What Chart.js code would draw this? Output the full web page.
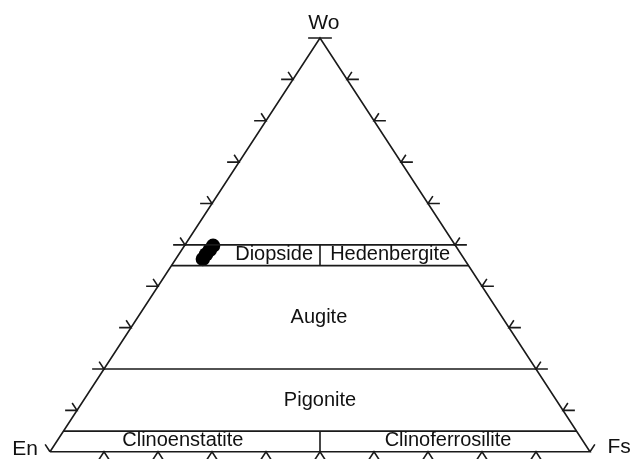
<!DOCTYPE html>
<html>
<head>
<meta charset="utf-8">
<script src="https://cdn.jsdelivr.net/npm/chart.js@4/dist/chart.umd.min.js"></script>
<style>
  html, body { margin: 0; padding: 0; background: #fff; }
  #box { width: 631px; height: 459px; position: relative; }
</style>
</head>
<body>
<div id="box"><canvas id="ternChart"></canvas></div>
<script>
// corner and field names
const cornerNames = ['Wo', 'En', 'Fs'];
const fieldNames = ['Diopside', 'Hedenbergite', 'Augite', 'Pigonite', 'Clinoenstatite', 'Clinoferrosilite'];

// tick values along every side (percent)
const tickValues = [10, 20, 30, 40, 50, 60, 70, 80, 90];

// Wo (%) of the horizontal field boundaries
const boundaryWo = [50, 45, 20, 5];
// En = Fs divider, Wo ranges (%)
const dividerFrom = [0, 45];
const dividerTo = [5, 50];

// analysed pyroxenes (%)
const sampleWo = [49.8, 48.8, 47.7, 46.6];
const sampleFs = [5.3, 5.2, 5.05, 5.0];
const sampleEn = sampleWo.map((w, i) => 100 - w - sampleFs[i]);

// ternary (Wo, En, Fs in %) -> x/y of the scatter scales
function tern(wo, en, fs) {
  return { x: (fs + wo / 2) / 100, y: wo / 100 };
}
const gap = { x: null, y: null };

// triangle
const frame = [tern(0, 100, 0), tern(0, 0, 100), tern(100, 0, 0), tern(0, 100, 0)];

// field boundaries
const fieldLines = [];
boundaryWo.forEach(w => {
  fieldLines.push(tern(w, 100 - w, 0), tern(w, 0, 100 - w), gap);
});
dividerFrom.forEach((w1, i) => {
  const w2 = dividerTo[i];
  fieldLines.push(tern(w1, (100 - w1) / 2, (100 - w1) / 2), tern(w2, (100 - w2) / 2, (100 - w2) / 2), gap);
});

// tick marks (point outward, parallel to the other sides)
const dH = 2.2, dD = 1.8, dB = 2.0;
const tickLines = [];
tickValues.forEach(t => {
  // left side (Wo-En), Fs = 0
  const l = [t, 100 - t, 0];
  tickLines.push(tern(l[0], l[1] + dH, l[2] - dH), tern(...l), tern(l[0] + dD, l[1], l[2] - dD), gap);
  // right side (Wo-Fs), En = 0
  const r = [t, 0, 100 - t];
  tickLines.push(tern(r[0], r[1] - dH, r[2] + dH), tern(...r), tern(r[0] + dD, r[1] - dD, r[2]), gap);
  // base (En-Fs), Wo = 0
  const b = [0, 100 - t, t];
  tickLines.push(tern(b[0] - dB, b[1] + dB, b[2]), tern(...b), tern(b[0] - dB, b[1], b[2] + dB), gap);
});
// corners
tickLines.push(tern(100, dH, -dH), tern(100, -dH, dH), gap);
tickLines.push(tern(0, 100, 0), tern(dD, 100, -dD), gap);
tickLines.push(tern(0, 0, 100), tern(dD, -dD, 100), gap);

const samples = sampleWo.map((w, i) => tern(w, sampleEn[i], sampleFs[i]));

// label anchors in scale units
const cornerPos = [[0.507, 1.035], [-0.046, 0.007], [1.054, 0.01]];
const fieldPos = [[0.415, 0.477], [0.630, 0.477], [0.498, 0.325], [0.5, 0.123], [0.246, 0.0265], [0.737, 0.0265]];

const labelPlugin = {
  id: 'ternLabels',
  afterDatasetsDraw(chart) {
    const c = chart.ctx, xs = chart.scales.x, ys = chart.scales.y;
    c.save();
    c.fillStyle = '#111';
    c.textAlign = 'center';
    c.textBaseline = 'middle';
    c.font = '21px "Liberation Sans", Arial, sans-serif';
    cornerNames.forEach((n, i) => {
      c.fillText(n, xs.getPixelForValue(cornerPos[i][0]), ys.getPixelForValue(cornerPos[i][1]));
    });
    c.font = '20px "Liberation Sans", Arial, sans-serif';
    fieldNames.forEach((n, i) => {
      c.fillText(n, xs.getPixelForValue(fieldPos[i][0]), ys.getPixelForValue(fieldPos[i][1]));
    });
    c.restore();
  }
};

const lineStyle = {
  showLine: true,
  pointRadius: 0,
  borderColor: '#1a1a1a',
  borderWidth: 1.6,
  spanGaps: false,
  fill: false,
  clip: false
};

const config = {
  type: 'scatter',
  data: {
    datasets: [
      Object.assign({ label: 'frame', data: frame }, lineStyle),
      Object.assign({ label: 'fields', data: fieldLines }, lineStyle),
      Object.assign({ label: 'ticks', data: tickLines }, lineStyle),
      {
        label: 'samples',
        data: samples,
        pointRadius: 7.2,
        pointBackgroundColor: '#000',
        pointBorderColor: '#000',
        pointBorderWidth: 0,
        clip: false
      }
    ]
  },
  options: {
    responsive: true,
    maintainAspectRatio: false,
    animation: false,
    layout: { padding: { left: 50, right: 41, top: 38, bottom: 6 } },
    plugins: {
      legend: { display: false },
      tooltip: { enabled: false }
    },
    scales: {
      x: { type: 'linear', min: 0, max: 1, display: false },
      y: { type: 'linear', min: 0, max: 1, display: false }
    }
  },
  plugins: [labelPlugin]
};

new Chart(document.getElementById('ternChart'), config);
</script>
</body>
</html>
